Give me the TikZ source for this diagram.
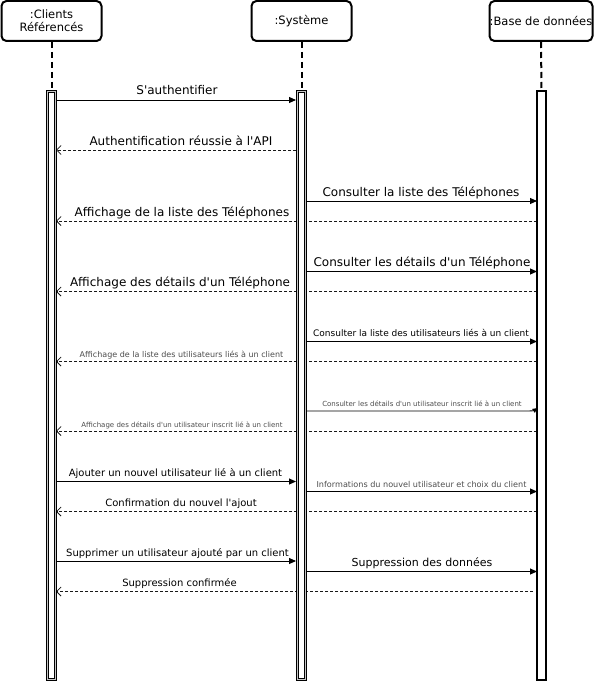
\documentclass[tikz,border=0pt]{standalone}
\usepackage{fontspec}
\setmainfont{DejaVu Sans}[Ligatures=TeXOff]
\usetikzlibrary{arrows.meta}
\begin{document}
\begin{tikzpicture}[x=1pt,y=-1pt,
  head/.style={draw=black, line width=2pt, rounded corners=5pt, minimum width=100pt, minimum height=40pt, align=center, inner sep=0pt, font=\fontsize{11.5}{13}\selectfont},
  actbar/.style={draw=black, line width=0.9pt, double=gray!45, double distance=0.8pt, fill=white, minimum width=8.5pt, minimum height=588pt, inner sep=0pt},
  dbbar/.style={draw=black, line width=2pt, fill=white, minimum width=8.5pt, minimum height=588pt, inner sep=0pt},
  life/.style={draw=black, line width=2pt, dash pattern=on 6pt off 4pt},
  msg/.style={draw=black, line width=0.9pt, -{Triangle[length=7pt,width=6pt]}},
  ret/.style={draw=black!90, line width=0.8pt, dash pattern=on 3pt off 2pt, -{Straight Barb[length=4.5pt,width=9pt,line width=0.8pt]}},
  lbl/.style={anchor=base, inner sep=0pt, text=black},
]
\useasboundingbox (0,0) rectangle (595,682);

% heads
\node[head] (c) at (51.5,21) {:Clients\\Référencés};
\node[head] (s) at (301.5,21) {:Système};
\node[head, minimum width=103pt] (d) at (541,21) {:Base de données};

% lifelines
\coordinate (ct) at (51.5,91);
\coordinate (st) at (301.5,91);
\coordinate (dt) at (541.5,91);
\draw[life] (c.south) -- (ct);
\draw[life] (s.south) -- (st);
\draw[life] (d.south) -- (dt);

% messages (drawn before bars)
\draw[msg] (56,100) coordinate (m1a) -- (296,100) coordinate (m1b);
\draw[ret] (296,150) coordinate (m2a) -- (56,150) coordinate (m2b);
\draw[msg] (306,201) coordinate (m3a) -- (537,201) coordinate (m3b);
\draw[ret] (537,221) coordinate (m4a) -- (56,221) coordinate (m4b);
\draw[msg] (306,271.5) coordinate (m5a) -- (537,271.5) coordinate (m5b);
\draw[ret] (537,291.5) coordinate (m6a) -- (56,291.5) coordinate (m6b);
\draw[msg] (306,341.5) coordinate (m7a) -- (537,341.5) coordinate (m7b);
\draw[ret] (537,361.5) coordinate (m8a) -- (56,361.5) coordinate (m8b);
\draw[msg, -{Triangle[length=5pt,width=4.5pt]}] (306,411) coordinate (m9a) -- (528,411) .. controls (532,411) and (534,410.5) .. (537.5,408) coordinate (m9b);
\draw[ret] (537,431) coordinate (m10a) -- (56,431) coordinate (m10b);
\draw[msg] (56,481.5) coordinate (m11a) -- (296,481.5) coordinate (m11b);
\draw[msg] (306,491.5) coordinate (m12a) -- (537,491.5) coordinate (m12b);
\draw[ret] (537,511.5) coordinate (m13a) -- (56,511.5) coordinate (m13b);
\draw[msg] (56,561) coordinate (m14a) -- (296,561) coordinate (m14b);
\draw[msg] (306,571.5) coordinate (m15a) -- (537,571.5) coordinate (m15b);
\draw[ret] (533,591.5) coordinate (m16a) -- (56,591.5) coordinate (m16b);

% activation bars
\node[actbar] (cb) at (51.5,385.5) {};
\node[actbar] (sb) at (301.5,385.5) {};
\node[dbbar] (db) at (541.5,385.5) {};

% labels
\node[lbl, font=\fontsize{12}{14}\selectfont] (t1) at (177,95) {S'authentifier};
\node[lbl, font=\fontsize{12}{14}\selectfont] (t2) at (181,145.5) {Authentification réussie à l'API};
\node[lbl, font=\fontsize{12}{14}\selectfont] (t3) at (421,196) {Consulter la liste des Téléphones};
\node[lbl, font=\fontsize{12}{14}\selectfont] (t4) at (182,216) {Affichage de la liste des Téléphones};
\node[lbl, font=\fontsize{12}{14}\selectfont] (t5) at (422,266.5) {Consulter les détails d'un Téléphone};
\node[lbl, font=\fontsize{12}{14}\selectfont] (t6) at (180,286.5) {Affichage des détails d'un Téléphone};
\node[lbl, font=\fontsize{9}{11}\selectfont] (t7) at (421,336.5) {Consulter la liste des utilisateurs liés à un client};
\node[lbl, font=\fontsize{8}{10}\selectfont, text=black!70] (t8) at (181.5,357) {Affichage de la liste des utilisateurs liés à un client};
\node[lbl, font=\fontsize{7}{9}\selectfont, text=black!70] (t9) at (422,406) {Consulter les détails d'un utilisateur inscrit lié à un client};
\node[lbl, font=\fontsize{7}{9}\selectfont, text=black!70] (t10) at (182,427) {Affichage des détails d'un utilisateur inscrit lié à un client};
\node[lbl, font=\fontsize{10}{12}\selectfont] (t11) at (175.5,476.5) {Ajouter un nouvel utilisateur lié à un client};
\node[lbl, font=\fontsize{8.1}{10}\selectfont, text=black!70] (t12) at (421.5,487) {Informations du nouvel utilisateur et choix du client};
\node[lbl, font=\fontsize{10}{12}\selectfont] (t13) at (181,506.5) {Confirmation du nouvel l'ajout};
\node[lbl, font=\fontsize{10}{12}\selectfont] (t14) at (177.5,556) {Supprimer un utilisateur ajouté par un client};
\node[lbl, font=\fontsize{11}{13}\selectfont] (t15) at (422,566.5) {Suppression des données};
\node[lbl, font=\fontsize{10}{12}\selectfont] (t16) at (179.5,586.5) {Suppression confirmée};
\end{tikzpicture}
\end{document}
